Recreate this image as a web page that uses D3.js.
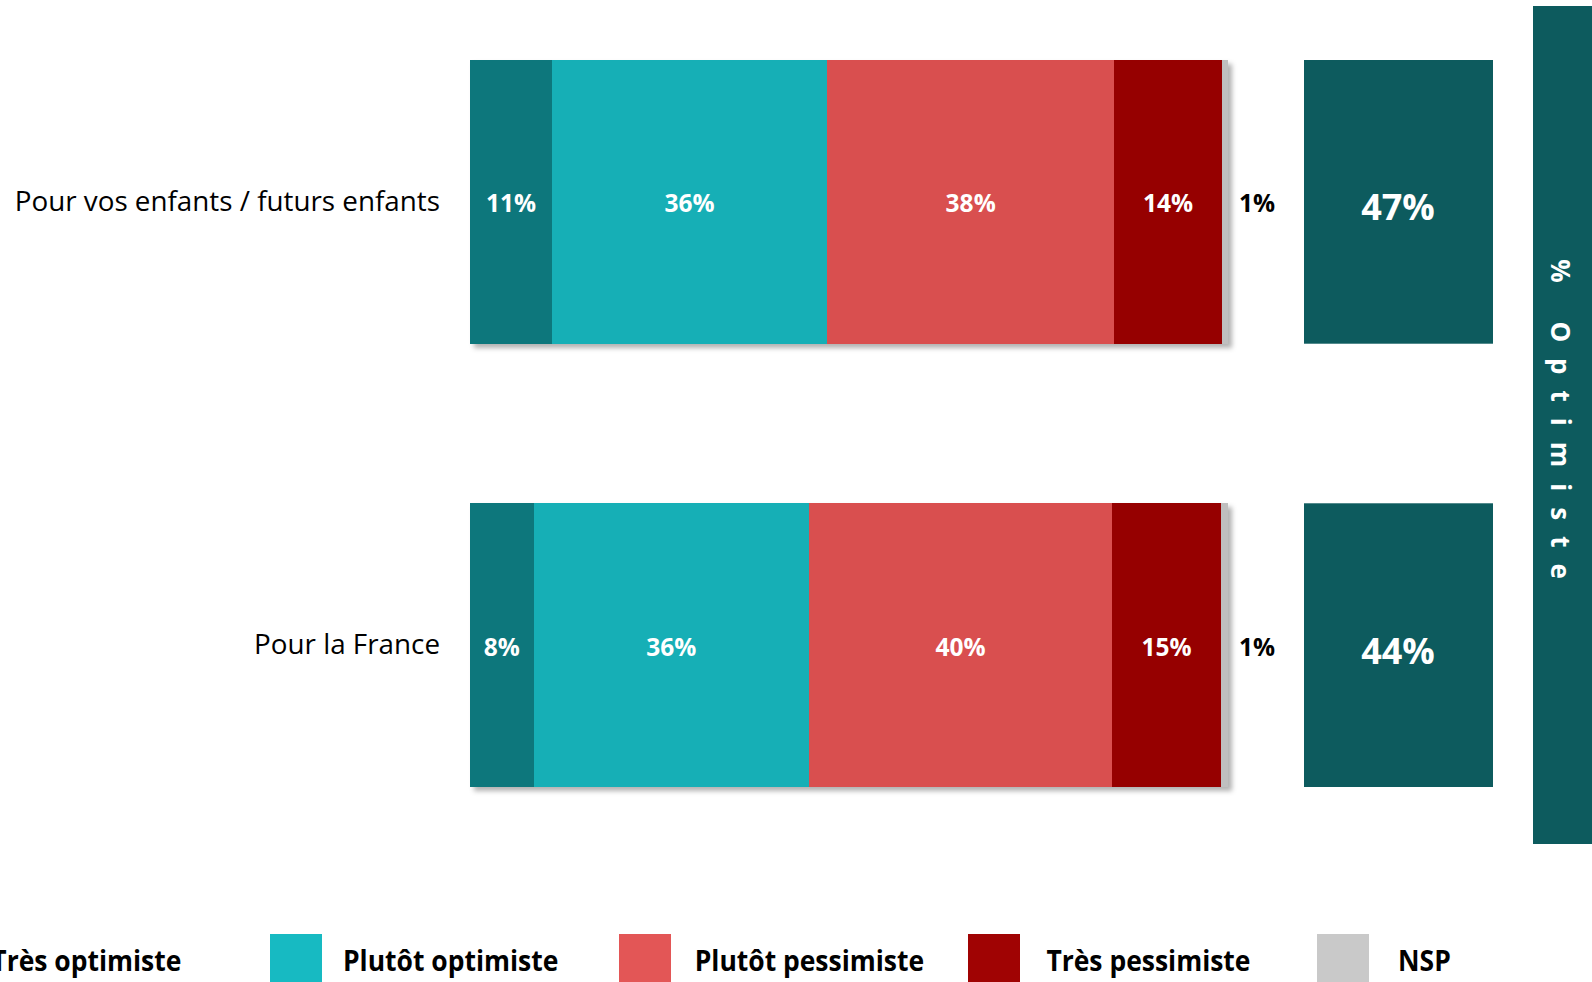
<!DOCTYPE html>
<html>
<head>
<meta charset="utf-8">
<script src="https://cdn.jsdelivr.net/npm/d3@7"></script>
<style>
  html, body { margin: 0; padding: 0; background: #fff; overflow: hidden; }
  text { font-family: "Open Sans", "Noto Sans", sans-serif; }
</style>
</head>
<body>
<script>
var categories = ["Pour vos enfants / futurs enfants", "Pour la France"];
var seriesNames = ["Très optimiste", "Plutôt optimiste", "Plutôt pessimiste", "Très pessimiste", "NSP"];
var seriesValues = [
    [10.8, 36.3, 37.9, 14.2, 0.8],
    [8.4, 36.3, 40.0, 14.4, 0.9]
];
var seriesLabels = [
    ["11%", "36%", "38%", "14%", "1%"],
    ["8%", "36%", "40%", "15%", "1%"]
];
var totalLabels = ["47%", "44%"];
var barColors = ["#10777c", "#13afb6", "#d94f50", "#960000", "#bfbfbf"];
var legendColors = ["#10777c", "#17bac2", "#e35656", "#a00303", "#c9c9c9"];
var totalTitle = "% Optimiste";

var outerWidth = 1592;
var outerHeight = 982;

var svg = d3.select("body").append("svg")
    .attr("width", outerWidth)
    .attr("height", outerHeight);

var defs = svg.append("defs");
var filter = defs.append("filter")
    .attr("id", "dropshadow")
    .attr("x", "-10%").attr("y", "-10%")
    .attr("width", "120%").attr("height", "120%");
filter.append("feDropShadow")
    .attr("dx", 4).attr("dy", 4)
    .attr("stdDeviation", 2.5)
    .attr("flood-color", "#000")
    .attr("flood-opacity", 0.3);

var x = d3.scaleLinear().domain([0, 100]).range([470, 1228]);
var y = d3.scaleBand().domain(categories).range([60, 787]).paddingInner(0.36);

var rows = categories.map(function(c, i){
    var acc = 0;
    var segs = seriesValues[i].map(function(v, j){
        var s = { name: seriesNames[j], value: v, label: seriesLabels[i][j], x0: acc, x1: acc + v, color: barColors[j], idx: j };
        acc += v;
        return s;
    });
    return { category: c, segs: segs, total: totalLabels[i] };
});

// category labels
svg.selectAll(".cat")
    .data(rows)
    .enter()
    .append("text")
    .attr("class", "cat")
    .attr("x", 440)
    .attr("y", function(d){ return y(d.category) + y.bandwidth() / 2 - 2; })
    .attr("text-anchor", "end")
    .attr("dominant-baseline", "central")
    .attr("font-size", 27.8)
    .attr("fill", "#000")
    .text(function(d){ return d.category; });

var bars = svg.selectAll(".bar")
    .data(rows)
    .enter()
    .append("g")
    .attr("class", "bar")
    .attr("transform", function(d){ return "translate(0," + y(d.category) + ")"; });

bars.append("g")
    .attr("filter", "url(#dropshadow)")
    .selectAll("rect")
    .data(function(d){ return d.segs; })
    .enter()
    .append("rect")
    .attr("x", function(d){ return x(d.x0); })
    .attr("width", function(d){ return x(d.x1) - x(d.x0); })
    .attr("height", y.bandwidth())
    .attr("fill", function(d){ return d.color; })
    .attr("shape-rendering", "crispEdges");

bars.selectAll(".seglabel")
    .data(function(d){ return d.segs; })
    .enter()
    .append("text")
    .attr("class", "seglabel")
    .attr("x", function(d){ return d.idx == 4 ? x(d.x1) + 11 : (x(d.x0) + x(d.x1)) / 2; })
    .attr("y", y.bandwidth() / 2 + 1)
    .attr("text-anchor", function(d){ return d.idx == 4 ? "start" : "middle"; })
    .attr("dominant-baseline", "central")
    .attr("font-size", 24.5)
    .attr("font-weight", "bold")
    .attr("fill", function(d){ return d.idx == 4 ? "#000" : "#fff"; })
    .text(function(d){ return d.label; });

// total boxes
bars.append("rect")
    .attr("x", 1304)
    .attr("width", 189)
    .attr("height", y.bandwidth())
    .attr("fill", "#0d5b5e");

bars.append("text")
    .attr("x", 1398)
    .attr("y", y.bandwidth() / 2 + 5)
    .attr("text-anchor", "middle")
    .attr("dominant-baseline", "central")
    .attr("font-size", 36)
    .attr("font-weight", "bold")
    .attr("fill", "#fff")
    .text(function(d){ return d.total; });

// vertical band
svg.append("rect")
    .attr("x", 1533)
    .attr("y", 6)
    .attr("width", 70)
    .attr("height", 838)
    .attr("fill", "#0d5b5e");

svg.append("text")
    .attr("transform", "translate(1561,427) rotate(90)")
    .attr("text-anchor", "middle")
    .attr("dominant-baseline", "central")
    .attr("font-size", 26)
    .attr("font-weight", "bold")
    .attr("letter-spacing", 16)
    .attr("fill", "#fff")
    .text(totalTitle);

// legend (first item is cut by the left edge, as in the original)
var swatchStep = 349;
var textStep = 351.7;
var legend = svg.selectAll(".legend")
    .data(seriesNames)
    .enter()
    .append("g")
    .attr("class", "legend");

legend.append("rect")
    .attr("x", function(d, i){ return 270 + (i - 1) * swatchStep; })
    .attr("y", 934)
    .attr("width", 52)
    .attr("height", 60)
    .attr("fill", function(d, i){ return legendColors[i]; });

legend.append("text")
    .attr("x", function(d, i){ return 343 + (i - 1) * textStep; })
    .attr("y", 960)
    .attr("dominant-baseline", "central")
    .attr("font-size", 28)
    .attr("font-weight", "bold")
    .attr("fill", "#000")
    .text(function(d){ return d; })
    .each(function(){
        var w = this.getComputedTextLength();
        d3.select(this)
            .attr("textLength", w * 0.945)
            .attr("lengthAdjust", "spacingAndGlyphs");
    });
</script>
</body>
</html>
